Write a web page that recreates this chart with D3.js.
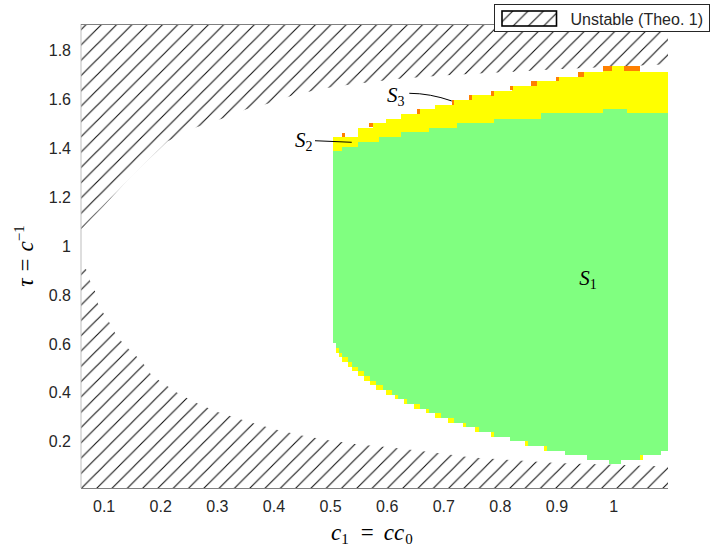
<!DOCTYPE html>
<html>
<head>
<meta charset="utf-8">
<script src="https://cdn.jsdelivr.net/npm/d3@7"></script>
<style>
  body { margin: 0; background: #fff; }
  svg { display: block; }
</style>
</head>
<body>
<div id="chart"></div>
<script>
// tick values
const xTicks = [0.1, 0.2, 0.3, 0.4, 0.5, 0.6, 0.7, 0.8, 0.9, 1];
const yTicks = [0.2, 0.4, 0.6, 0.8, 1, 1.2, 1.4, 1.6, 1.8];
const cMax = 1.097;

// unstable region (Theo. 1), upper part: lower boundary
const unstableUpperC   = [0.06, 0.10, 0.15, 0.213, 0.264, 0.31, 0.352, 0.388, 0.432, 0.485, 0.53, 0.617, 0.705, 0.787, 0.9, 1.0, 1.097];
const unstableUpperTau = [1.07, 1.165, 1.29, 1.43, 1.487, 1.523, 1.561, 1.582, 1.616, 1.645, 1.66, 1.685, 1.70, 1.71, 1.725, 1.735, 1.745];
// unstable region, lower part: upper boundary
const unstableLowerC   = [0.06, 0.069, 0.076, 0.085, 0.09, 0.10, 0.111, 0.12, 0.132, 0.149, 0.167, 0.183, 0.198, 0.23, 0.26, 0.30, 0.35, 0.40, 0.45, 0.50, 0.55, 0.60, 0.65, 0.70, 0.75, 0.80, 0.90, 1.0, 1.097];
const unstableLowerTau = [0.915, 0.906, 0.859, 0.814, 0.764, 0.725, 0.685, 0.646, 0.609, 0.568, 0.53, 0.477, 0.45, 0.40, 0.362, 0.322, 0.285, 0.252, 0.225, 0.205, 0.188, 0.178, 0.165, 0.15, 0.135, 0.128, 0.112, 0.105, 0.098];

// S1 (green) top edge, step starts
const greenTopC   = [0.505, 0.521, 0.550, 0.587, 0.625, 0.675, 0.724, 0.789, 0.873, 0.983, 1.025];
const greenTopTau = [1.391, 1.406, 1.428, 1.447, 1.466, 1.485, 1.506, 1.523, 1.544, 1.562, 1.544];
// S2 (yellow) top edge, step starts
const yellowTopC   = [0.505, 0.549, 0.575, 0.599, 0.625, 0.659, 0.685, 0.715, 0.747, 0.789, 0.821, 0.856, 0.901, 0.939, 0.983, 1.048];
const yellowTopTau = [1.449, 1.485, 1.503, 1.521, 1.543, 1.562, 1.580, 1.599, 1.619, 1.636, 1.658, 1.677, 1.694, 1.714, 1.738, 1.714];
// bottom edge, step starts: green bottom and yellow bottom
const bottomC = [0.505, 0.510, 0.516, 0.521, 0.532, 0.539, 0.549, 0.560, 0.571, 0.581, 0.594, 0.599, 0.610, 0.615, 0.620, 0.631, 0.636, 0.648, 0.659, 0.670, 0.675, 0.685, 0.696, 0.708, 0.719, 0.735, 0.740, 0.756, 0.763, 0.784, 0.790, 0.818, 0.845, 0.850, 0.878, 0.883, 0.915, 0.954, 0.993, 1.014, 1.048, 1.053, 1.085];
const greenBottomTau = [0.605, 0.585, 0.564, 0.545, 0.526, 0.507, 0.488, 0.469, 0.449, 0.431, 0.411, 0.411, 0.391, 0.391, 0.373, 0.373, 0.354, 0.354, 0.334, 0.334, 0.316, 0.316, 0.297, 0.297, 0.276, 0.276, 0.260, 0.260, 0.239, 0.239, 0.220, 0.204, 0.204, 0.183, 0.183, 0.163, 0.146, 0.126, 0.110, 0.126, 0.146, 0.146, 0.163];
const yellowBottomTau = [0.605, 0.564, 0.545, 0.526, 0.507, 0.488, 0.469, 0.449, 0.431, 0.411, 0.411, 0.391, 0.391, 0.373, 0.373, 0.354, 0.354, 0.334, 0.334, 0.316, 0.316, 0.297, 0.297, 0.276, 0.276, 0.260, 0.260, 0.239, 0.239, 0.220, 0.220, 0.204, 0.183, 0.183, 0.163, 0.163, 0.146, 0.126, 0.110, 0.126, 0.126, 0.146, 0.163];
// S3 (orange) cells: c from, c to, top tau
const orangeC0  = [0.5206, 0.5694, 0.6531, 0.715, 0.7455, 0.7844, 0.818, 0.855, 0.8992, 0.9386, 0.9828, 1.0199];
const orangeC1  = [0.5265, 0.5754, 0.659, 0.7191, 0.7514, 0.7898, 0.8227, 0.8651, 0.904, 0.9487, 0.9976, 1.0476];
const orangeTau = [1.465, 1.506, 1.562, 1.599, 1.619, 1.636, 1.658, 1.677, 1.694, 1.714, 1.738, 1.738];
const rowH = 0.019;

const width = 711, height = 549;
const x = d3.scaleLinear().domain([0.06, cMax]).range([81, 668]);
const y = d3.scaleLinear().domain([0.01, 1.91]).range([488, 24]);

const svg = d3.select("#chart").append("svg")
    .attr("width", width)
    .attr("height", height);

// hatch pattern
const hs = 15.3;
const pattern = svg.append("defs").append("pattern")
    .attr("id", "hatch")
    .attr("patternUnits", "userSpaceOnUse")
    .attr("x", 81.7)
    .attr("y", 488 - hs)
    .attr("width", hs)
    .attr("height", hs);
pattern.append("path")
    .attr("d", `M0,${hs} L${hs},0 M-2,2 L2,-2 M${hs - 2},${hs + 2} L${hs + 2},${hs - 2}`)
    .style("stroke", "#111")
    .style("stroke-width", 1.1);

const line = d3.line().x(d => x(d[0])).y(d => y(d[1]));

// unstable polygons
const upperPts = unstableUpperC.map((c, i) => [c, unstableUpperTau[i]]);
upperPts.push([cMax, y.domain()[1]], [0.06, y.domain()[1]]);
const lowerPts = unstableLowerC.map((c, i) => [c, unstableLowerTau[i]]);
lowerPts.push([cMax, y.domain()[0]], [0.06, y.domain()[0]]);

svg.append("g").selectAll("path")
    .data([upperPts, lowerPts])
    .enter().append("path")
    .attr("d", d => line(d) + "Z")
    .style("fill", "url(#hatch)")
    .style("stroke", "none");

// staircase helper
function stairs(cs, ts) {
    let pts = [];
    cs.forEach((c, i) => {
        let next = i + 1 < cs.length ? cs[i + 1] : cMax;
        pts.push([c, ts[i]], [next, ts[i]]);
    });
    return pts;
}

const yellowPoly = stairs(yellowTopC, yellowTopTau).concat(stairs(bottomC, yellowBottomTau).reverse());
const greenPoly = stairs(greenTopC, greenTopTau).concat(stairs(bottomC, greenBottomTau).reverse());

svg.append("path")
    .attr("d", line(yellowPoly) + "Z")
    .style("fill", "#ffff00")
    .attr("shape-rendering", "crispEdges");
svg.append("path")
    .attr("d", line(greenPoly) + "Z")
    .style("fill", "#80ff80")
    .attr("shape-rendering", "crispEdges");

svg.append("g").selectAll("rect")
    .data(orangeC0.map((c, i) => ({c0: c, c1: orangeC1[i], t: orangeTau[i]})))
    .enter().append("rect")
    .attr("x", d => x(d.c0))
    .attr("width", d => x(d.c1) - x(d.c0))
    .attr("y", d => y(d.t))
    .attr("height", d => y(d.t - rowH) - y(d.t))
    .style("fill", "#ff8000")
    .attr("shape-rendering", "crispEdges");

// axes
const xAxis = svg.append("g")
    .attr("transform", "translate(0,488)")
    .call(d3.axisBottom(x).tickValues(xTicks).tickSize(0).tickPadding(13).tickFormat(d3.format("~g")));
const yAxis = svg.append("g")
    .attr("transform", "translate(81,0)")
    .call(d3.axisLeft(y).tickValues(yTicks).tickSize(0).tickPadding(10).tickFormat(d3.format("~g")));
[xAxis, yAxis].forEach(g => {
    g.select(".domain").remove();
    g.selectAll("text")
        .style("font-family", "'Liberation Sans', Arial, sans-serif")
        .style("font-size", "16px")
        .style("fill", "#262626");
});

svg.append("line").attr("x1", 81).attr("x2", 81).attr("y1", 24).attr("y2", 488)
    .style("stroke", "#bdbdbd").style("stroke-width", 1);
svg.append("line").attr("x1", 81).attr("x2", 668).attr("y1", 488.5).attr("y2", 488.5)
    .style("stroke", "#808080").style("stroke-width", 1);
svg.append("line").attr("x1", 81).attr("x2", 668).attr("y1", 24.5).attr("y2", 24.5)
    .style("stroke", "#808080").style("stroke-width", 1);

// region labels
const serif = "'Liberation Serif', 'Times New Roman', serif";
const labels = [
    {name: "S", sub: "1", c: 0.94, t: 0.841},
    {name: "S", sub: "2", c: 0.438, t: 1.406},
    {name: "S", sub: "3", c: 0.6006, t: 1.5907}
];
labels.forEach(l => {
    let t = svg.append("text")
        .attr("x", x(l.c))
        .attr("y", y(l.t))
        .style("font-family", serif)
        .style("fill", "#000");
    t.append("tspan").text(l.name).style("font-style", "italic").style("font-size", "21px");
    t.append("tspan").text(l.sub).attr("dy", 4).style("font-size", "14px");
});

// leader lines
svg.append("path")
    .attr("d", line([[0.4734, 1.432], [0.5383, 1.4256]]))
    .style("stroke", "#000").style("stroke-width", 1).style("fill", "none");
svg.append("path")
    .attr("d", `M${x(0.64)},${y(1.6263)} Q${x(0.6766)},${y(1.626)} ${x(0.715)},${y(1.5948)}`)
    .style("stroke", "#000").style("stroke-width", 1).style("fill", "none");

// axis titles
const xt = svg.append("text")
    .attr("x", 331)
    .attr("y", 540)
    .style("font-family", serif)
    .style("font-size", "23px")
    .style("fill", "#000");
xt.append("tspan").text("c").style("font-style", "italic");
xt.append("tspan").text("1").attr("dy", 4).style("font-size", "15px");
xt.append("tspan").text("=").attr("dx", 12).attr("dy", -4);
xt.append("tspan").text("cc").attr("dx", 10).style("font-style", "italic");
xt.append("tspan").text("0").attr("dx", 1).attr("dy", 4).style("font-size", "15px");

const yt = svg.append("text")
    .attr("transform", "translate(33,256) rotate(-90)")
    .attr("text-anchor", "middle")
    .style("font-family", serif)
    .style("font-size", "23px")
    .style("fill", "#000");
yt.append("tspan").text("τ").style("font-style", "italic");
yt.append("tspan").text("=").attr("dx", 7);
yt.append("tspan").text("c").attr("dx", 7).style("font-style", "italic");
yt.append("tspan").text("−1").attr("dy", -9).style("font-size", "15px");

// legend
const legend = svg.append("g");
legend.append("rect")
    .attr("x", 494.5).attr("y", 4.5).attr("width", 215).attr("height", 27)
    .style("fill", "#fff").style("stroke", "#262626").style("stroke-width", 1);
legend.append("rect")
    .attr("x", 502).attr("y", 11).attr("width", 54.5).attr("height", 15)
    .style("fill", "url(#hatch)").style("stroke", "#000").style("stroke-width", 1.6);
legend.append("text")
    .attr("x", 570.5).attr("y", 25)
    .style("font-family", "'Liberation Sans', Arial, sans-serif")
    .style("font-size", "16px")
    .style("fill", "#262626")
    .text("Unstable (Theo. 1)");
</script>
</body>
</html>
